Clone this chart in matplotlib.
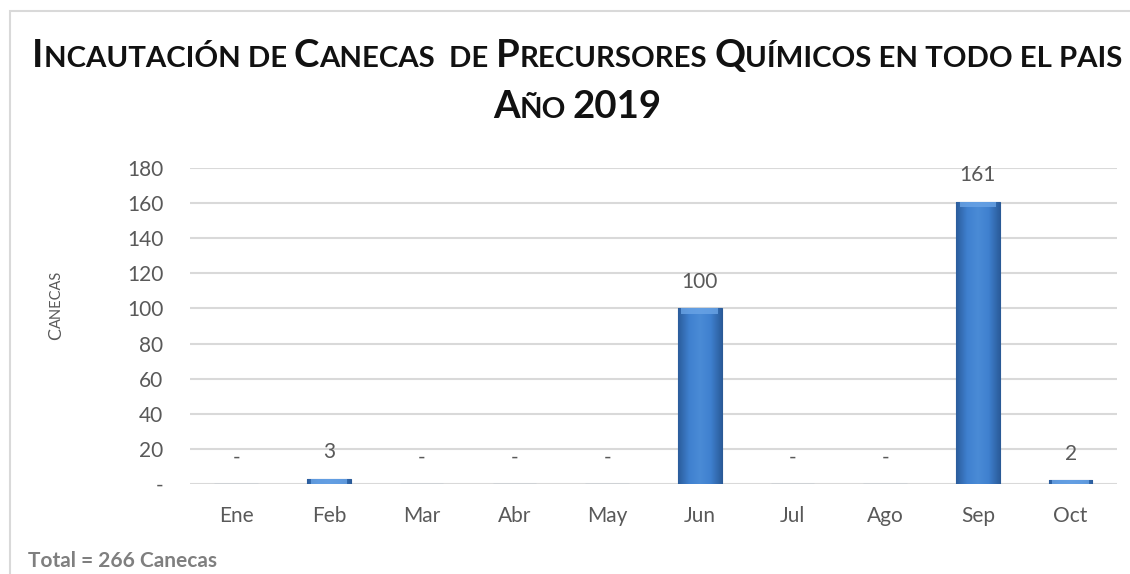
import numpy as np
import matplotlib
matplotlib.use("Agg")
import matplotlib.pyplot as plt
from matplotlib.patches import Rectangle
from matplotlib.colors import LinearSegmentedColormap

months = ["Ene", "Feb", "Mar", "Abr", "May", "Jun", "Jul", "Ago", "Sep", "Oct"]
canecas = [0, 3, 0, 0, 0, 100, 0, 0, 161, 2]
y_ticks = [0, 20, 40, 60, 80, 100, 120, 140, 160, 180]
y_tick_labels = ["-", "20", "40", "60", "80", "100", "120", "140", "160", "180"]
title_lines = ["Incautación de Canecas  de Precursores Químicos en todo el pais",
               "Año 2019"]
y_title = "Canecas"
footer = "Total = 266 Canecas"

FONT = "Lato"
GRAY = "#595959"
plt.rcParams["font.family"] = [FONT, "DejaVu Sans"]

fig = plt.figure(figsize=(11.3, 5.74), dpi=100)
fig.patch.set_facecolor("white")
ax = fig.add_axes([0.168, 0.157, 0.8205, 0.550])

# outer frame of the chart area
fig.add_artist(Rectangle((10 / 1130, -0.1), 1.2, 1 - 11 / 574 + 0.1,
                         transform=fig.transFigure, fill=False,
                         edgecolor="#d9d9d9", linewidth=1.5))

x = np.arange(len(months))
bars = ax.bar(x, canecas, width=0.47, color="#3d7cc9", edgecolor="#2a5a96",
              linewidth=0.8, zorder=3)

# cylinder-like shading inside every bar
shade = LinearSegmentedColormap.from_list(
    "shade", ["#2b5d9c", "#3f80cf", "#4a8bd6", "#3f80cf", "#2b5d9c"])
grad = np.linspace(0, 1, 64).reshape(1, -1)
for b in bars:
    if b.get_height() <= 0:
        continue
    x0, w, h = b.get_x(), b.get_width(), b.get_height()
    im = ax.imshow(grad, cmap=shade, aspect="auto", zorder=3.5,
                   extent=(x0, x0 + w, 0, h), interpolation="bicubic")
    im.set_clip_path(b)
    # lighter bevel on the top edge
    top = min(h, 3.2)
    ax.add_patch(Rectangle((x0 + w * 0.08, h - top), w * 0.84, top,
                           facecolor="#6aa4e6", edgecolor="none",
                           alpha=0.8, zorder=3.6, clip_path=b))

for xi, v in zip(x, canecas):
    ax.annotate(str(v) if v else "-", (xi, v), xytext=(0, 19),
                textcoords="offset points", ha="center", va="center",
                fontsize=15, color=GRAY, zorder=5)

ax.set_xlim(-0.5, len(months) - 0.5)
ax.set_ylim(0, 180)
ax.set_yticks(y_ticks)
ax.set_yticklabels(y_tick_labels)
ax.set_xticks(x)
ax.set_xticklabels(months)
ax.tick_params(axis="both", length=0, labelsize=15, labelcolor=GRAY)
ax.tick_params(axis="y", pad=19)
ax.tick_params(axis="x", pad=16)
ax.grid(axis="y", color="#d9d9d9", linewidth=1.5, zorder=0)
for s in ax.spines.values():
    s.set_visible(False)

renderer = fig.canvas.get_renderer()


def text_width(s, size, **kw):
    t = fig.text(0, 0, s, fontsize=size, **kw)
    wd = t.get_window_extent(renderer).width
    t.remove()
    return wd


def smallcaps(text, cx, y, big, small, **kw):
    # split into runs of capitals (large) and lower case (small caps)
    runs = []
    for ch in text:
        size = small if ch.islower() or ch == " " else big
        ch = ch.upper()
        if runs and runs[-1][1] == size:
            runs[-1][0] += ch
        else:
            runs.append([ch, size])
    # spaces at the ends of a run are not in the extent, so add them by hand
    pieces = []
    for s, size in runs:
        n_lead = len(s) - len(s.lstrip(" "))
        n_trail = len(s) - len(s.rstrip(" "))
        core = s.strip(" ")
        sp = text_width("x x", size, **kw) - text_width("xx", size, **kw)
        pieces.append((n_lead * sp, text_width(core, size, **kw) if core else 0,
                       n_trail * sp, core, size))
    total = sum(a + b + c for a, b, c, _, _ in pieces)
    pos = cx * fig.bbox.width - total / 2
    for lead, wd, trail, core, size in pieces:
        pos += lead
        if core:
            fig.text(pos / fig.bbox.width, y, core, fontsize=size,
                     va="baseline", ha="left", **kw)
        pos += wd + trail


smallcaps(title_lines[0], 0.511, 1 - 67 / 574, 27.6, 21.2,
          fontweight="bold", color="#111111")
smallcaps(title_lines[1], 0.511, 1 - 118 / 574, 27.6, 21.2,
          fontweight="bold", color="#111111")

# rotated axis title in small capitals, reading upwards
cap, rest = y_title[0].upper(), y_title[1:].upper()
w_cap = text_width(cap, 13)
w_rest = text_width(rest, 10.5)
split_px = 305 + (w_cap + w_rest) / 2 - w_cap
fig.text(64 / 1130, 1 - (split_px + w_cap) / 574, cap, fontsize=13,
         rotation=90, color=GRAY, ha="right", va="bottom")
fig.text(64 / 1130, 1 - split_px / 574, rest, fontsize=10.5, rotation=90,
         color=GRAY, ha="right", va="bottom")

fig.text(28 / 1130, 1 - 561 / 574, footer, fontsize=15, fontweight="bold",
         color="#7f7f7f", ha="left", va="center")

fig.savefig("out.png", dpi=100)
